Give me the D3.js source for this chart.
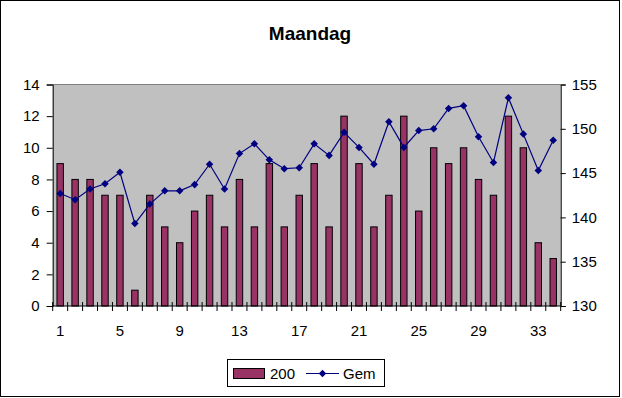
<!DOCTYPE html>
<html>
<head>
<meta charset="utf-8">
<script src="https://cdn.jsdelivr.net/npm/d3@7"></script>
<style>
  body { margin: 0; background: #fff; }
  text { font-family: Arial, "Liberation Sans", sans-serif; }
</style>
</head>
<body>
<script>
const w = 622;
const h = 398;

const days = d3.range(1, 35);
const bars200 = [9, 8, 8, 7, 7, 1, 7, 5, 4, 6, 7, 5, 8, 5, 9, 5, 7, 9, 5, 12, 9, 5, 7, 12, 6, 10, 9, 10, 8, 7, 12, 10, 4, 3];
const gem = [142.7, 142.0, 143.2, 143.8, 145.1, 139.3, 141.5, 143.0, 143.0, 143.7, 146.0, 143.2, 147.2, 148.3, 146.5, 145.5,
             145.6, 148.3, 147.0, 149.6, 147.9, 146.0, 150.8, 147.9, 149.8, 150.0, 152.3, 152.6, 149.1, 146.2, 153.5, 149.4, 145.3, 148.7];
const leftTicks = [0, 2, 4, 6, 8, 10, 12, 14];
const rightTicks = [130, 135, 140, 145, 150, 155];
const xLabels = [1, 5, 9, 13, 17, 21, 25, 29, 33];

const plot = {left: 52.7, right: 560.7, top: 84.5, bottom: 306};

const svg = d3.select('body').append('svg')
    .attr('width', w)
    .attr('height', h);

// outer frame
svg.append('rect')
    .attr('x', 0.5).attr('y', 0.5)
    .attr('width', 619).attr('height', 396)
    .attr('fill', '#fff').attr('stroke', '#000');

svg.append('text')
    .attr('x', 310).attr('y', 40)
    .attr('text-anchor', 'middle')
    .attr('font-size', '19px')
    .attr('font-weight', 'bold')
    .text('Maandag');

const x = d3.scaleBand().domain(days).range([plot.left, plot.right]);
const xBar = d3.scaleBand().domain(days).range([plot.left, plot.right]).paddingInner(0.57).paddingOuter(0.285);
const yL = d3.scaleLinear().domain([0, 14]).range([plot.bottom, plot.top]);
const yR = d3.scaleLinear().domain([130, 155]).range([plot.bottom, plot.top]);

// plot area
svg.append('rect')
    .attr('x', plot.left).attr('y', plot.top)
    .attr('width', plot.right - plot.left).attr('height', plot.bottom - plot.top)
    .attr('fill', '#C0C0C0');
svg.append('line')
    .attr('x1', plot.left).attr('x2', plot.right)
    .attr('y1', plot.top).attr('y2', plot.top)
    .attr('stroke', '#808080');

svg.selectAll('rect.bar')
    .data(bars200)
    .enter()
    .append('rect')
    .attr('class', 'bar')
    .attr('x', (d, i) => xBar(days[i]))
    .attr('y', d => yL(d))
    .attr('width', xBar.bandwidth())
    .attr('height', d => yL(0) - yL(d))
    .attr('fill', '#993366')
    .attr('stroke', '#000')
    .attr('stroke-width', 1);

// axes
const leftAxis = d3.axisLeft(yL).tickValues(leftTicks).tickSize(6).tickPadding(7);
const gL = svg.append('g').attr('transform', `translate(${plot.left},0)`).call(leftAxis);

const rightAxis = d3.axisRight(yR).tickValues(rightTicks).tickSize(5).tickPadding(6);
const gR = svg.append('g').attr('transform', `translate(${plot.right},0)`).call(rightAxis);

const bottomAxis = d3.axisBottom(x).tickValues(xLabels).tickSize(0).tickPadding(19);
const gB = svg.append('g').attr('transform', `translate(0,${plot.bottom})`).call(bottomAxis);

[gL, gR, gB].forEach(g => {
    g.select('.domain').attr('stroke', '#000');
    g.selectAll('line').attr('stroke', '#000');
    g.selectAll('text')
        .attr('font-size', '15px')
        .attr('font-family', 'Arial, "Liberation Sans", sans-serif')
        .attr('fill', '#000');
});
gB.select('.domain').attr('d', `M${plot.left},0H${plot.right}`);

// category boundary ticks crossing the x axis
svg.append('g')
    .selectAll('line')
    .data(d3.range(0, days.length + 1))
    .enter()
    .append('line')
    .attr('x1', i => plot.left + i * x.step())
    .attr('x2', i => plot.left + i * x.step())
    .attr('y1', plot.bottom - 4)
    .attr('y2', plot.bottom + 5)
    .attr('stroke', '#000');

// Gem line
const line = d3.line()
    .x((d, i) => x(days[i]) + x.bandwidth() / 2)
    .y(d => yR(d));

svg.append('path')
    .datum(gem)
    .attr('d', line)
    .attr('fill', 'none')
    .attr('stroke', '#000080')
    .attr('stroke-width', 1.2);

const diamond = d3.symbol().type(d3.symbolDiamond2).size(36);

svg.selectAll('path.marker')
    .data(gem)
    .enter()
    .append('path')
    .attr('class', 'marker')
    .attr('d', diamond)
    .attr('transform', (d, i) => `translate(${x(days[i]) + x.bandwidth() / 2},${yR(d)})`)
    .attr('fill', '#000080');

// legend
const lg = svg.append('g');
lg.append('rect')
    .attr('x', 227.5).attr('y', 359.5)
    .attr('width', 157).attr('height', 27)
    .attr('fill', '#fff').attr('stroke', '#000');
lg.append('rect')
    .attr('x', 233.5).attr('y', 368.5)
    .attr('width', 31).attr('height', 10)
    .attr('fill', '#993366').attr('stroke', '#000');
lg.append('text')
    .attr('x', 270).attr('y', 379)
    .attr('font-size', '15px')
    .text('200');
lg.append('line')
    .attr('x1', 306).attr('x2', 339)
    .attr('y1', 373.5).attr('y2', 373.5)
    .attr('stroke', '#000080')
    .attr('stroke-width', 1.2);
lg.append('path')
    .attr('d', diamond)
    .attr('transform', 'translate(322.5,373.5)')
    .attr('fill', '#000080');
lg.append('text')
    .attr('x', 343).attr('y', 379)
    .attr('font-size', '15px')
    .text('Gem');
</script>
</body>
</html>
